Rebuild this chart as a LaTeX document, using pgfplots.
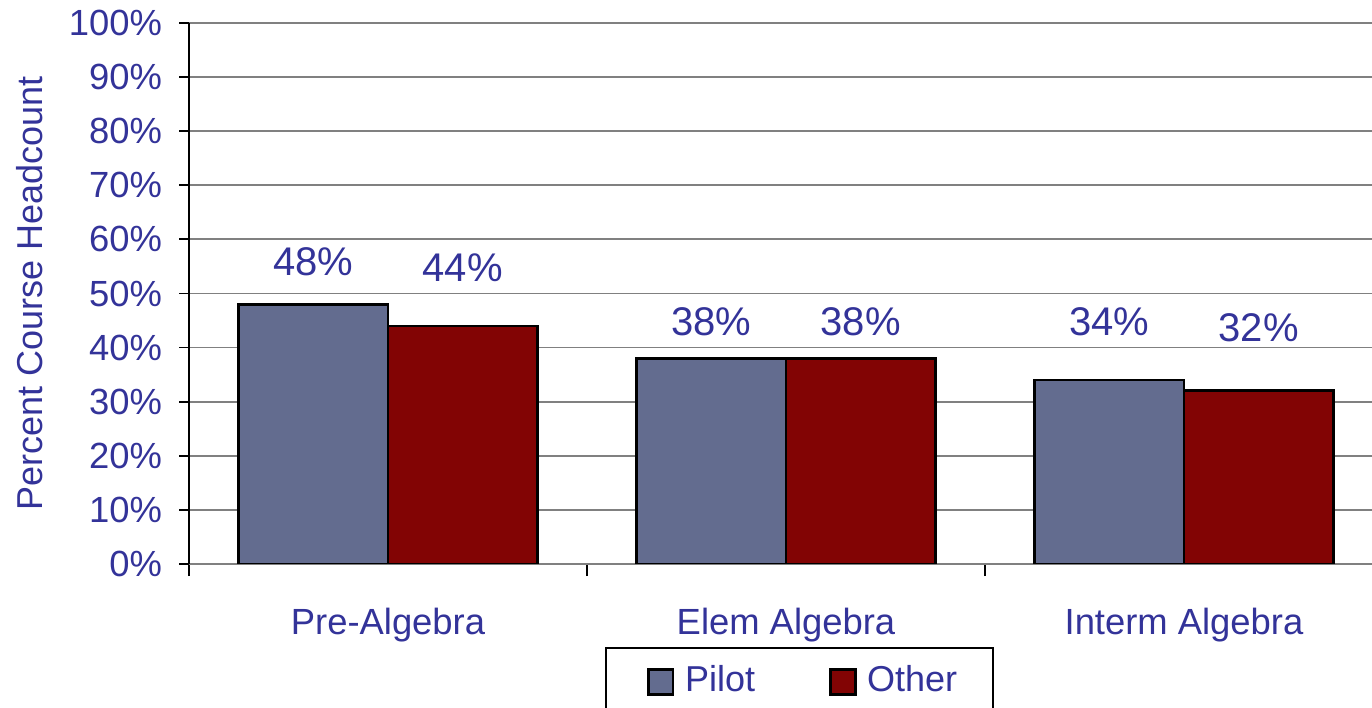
\documentclass[border=0pt]{standalone}
\usepackage{fontspec}
\setmainfont{Liberation Sans}
\usepackage{pgfplots}
\pgfplotsset{compat=1.18}
\definecolor{txt}{HTML}{333399}
\definecolor{pilot}{HTML}{636C8F}
\definecolor{other}{HTML}{820404}
\definecolor{gridc}{HTML}{808080}
\pgfplotsset{mylegend/.style={legend image code/.code={\draw[##1,draw=black,line width=0.7bp] (0bp,-3.1bp) rectangle (6.2bp,3.1bp); \path[draw=none,fill=none] (0bp,0bp) -- (7.2bp,0bp);}}}
\begin{document}
\begin{tikzpicture}
\useasboundingbox (-47.25bp,-36bp) rectangle (295.75bp,141bp);
\begin{axis}[
  at={(0,0)}, anchor=south west,
  width=295.75bp, height=135.25bp, scale only axis,
  xmin=-0.5, xmax=2.4724, ymin=0, ymax=100,
  axis x line*=bottom, axis y line*=left,
  x axis line style={draw=gridc, line width=0.45bp},
  y axis line style={draw=black, line width=0.5bp},
  ytick={0,10,...,100},
  yticklabel={\pgfmathprintnumber{\tick}\%},
  /pgf/number format/assume math mode=true,
  ymajorgrids, grid style={draw=gridc, line width=0.45bp},
  xtick={0,1,2},
  xticklabels={Pre-Algebra, Elem Algebra, Interm Algebra},
  major x tick style={draw=none},
  minor xtick={-0.5,0.5,1.5},
  minor x tick style={draw=black},
  tick align=outside,
  major tick length=2.5bp, minor tick length=3bp,
  tick style={black, line width=0.45bp},
  tick label style={font=\fontsize{9.1bp}{10.8bp}\selectfont, text=txt},
  yticklabel style={anchor=east, xshift=-0.75bp},
  xticklabel style={anchor=base, yshift=-15bp},
  ylabel={Percent Course Headcount},
  ylabel style={font=\fontsize{9bp}{10.8bp}\selectfont, text=txt, at={(axis description cs:-0.1344,0.5)}, anchor=center},
  legend style={at={(axis description cs:0.3516,-0.1534)}, anchor=north west,
    draw=black, line width=0.45bp, font=\fontsize{9bp}{10.8bp}\selectfont, text=txt,
    inner xsep=10.25bp, inner ysep=2.5bp,
    /tikz/every even column/.append style={column sep=16.5bp}},
  legend columns=2,
]
\addplot[ybar, bar width=0.375, bar shift=-0.1875, fill=pilot, draw=black, line width=0.7bp, mylegend]
  coordinates {(0,48) (1,38) (2,34)};
\addplot[ybar, bar width=0.375, bar shift=0.1875, fill=other, draw=black, line width=0.7bp, mylegend]
  coordinates {(0,44) (1,38) (2,32)};
\legend{Pilot,Other\hspace*{-3.25bp}}
\addplot[only marks, mark=none, point meta=explicit symbolic,
  nodes near coords={\pgfplotspointmeta\%},
  nodes near coords style={anchor=center, text=txt, font=\fontsize{10bp}{12bp}\selectfont}]
  table[meta=lab] {
x y lab
-0.1875 55.8 48
0.1875 54.7 44
0.8125 44.7 38
1.1875 44.7 38
1.8125 44.7 34
2.1875 43.6 32
};
\end{axis}
\end{tikzpicture}
\end{document}
